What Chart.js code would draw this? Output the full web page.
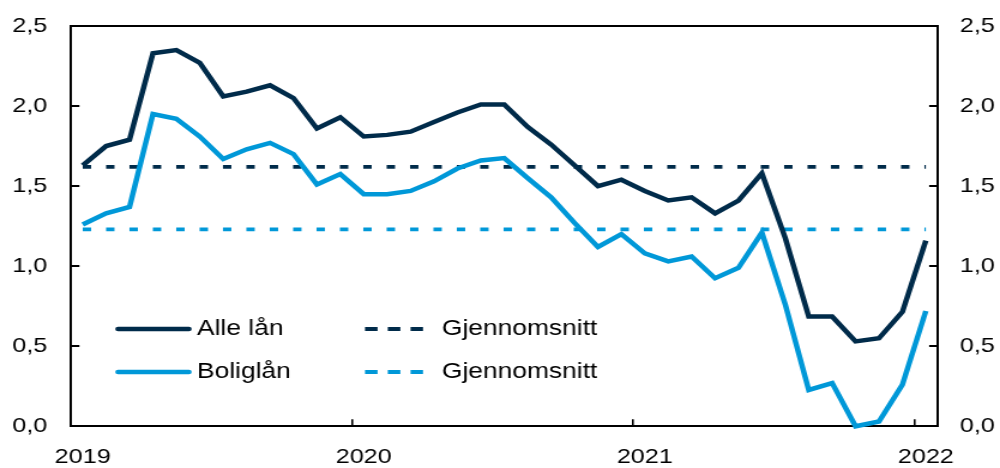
<!DOCTYPE html>
<html><head><meta charset="utf-8">
<script src="https://cdn.jsdelivr.net/npm/chart.js@4/dist/chart.umd.min.js"></script>
<style>
html,body{margin:0;padding:0;background:#fff;overflow:hidden}
#wrap{position:absolute;left:0;top:0;width:834px;height:468px;transform:scaleX(1.199041);transform-origin:0 0}
</style></head><body>
<div id="wrap"><canvas id="c"></canvas></div>
<script>
const categories = ['2019-01','2019-02','2019-03','2019-04','2019-05','2019-06','2019-07','2019-08','2019-09','2019-10','2019-11','2019-12',
  '2020-01','2020-02','2020-03','2020-04','2020-05','2020-06','2020-07','2020-08','2020-09','2020-10','2020-11','2020-12',
  '2021-01','2021-02','2021-03','2021-04','2021-05','2021-06','2021-07','2021-08','2021-09','2021-10','2021-11','2021-12',
  '2022-01'];
const alleLan = [1.63,1.75,1.79,2.33,2.35,2.27,2.06,2.09,2.13,2.05,1.86,1.93,
  1.81,1.82,1.84,1.90,1.96,2.01,2.01,1.87,1.76,1.63,1.50,1.54,
  1.47,1.41,1.43,1.33,1.41,1.58,1.175,0.685,0.685,0.53,0.55,0.715,
  1.16];
const boliglan = [1.26,1.33,1.37,1.95,1.92,1.81,1.67,1.73,1.77,1.70,1.51,1.575,
  1.45,1.45,1.47,1.53,1.61,1.66,1.675,1.55,1.43,1.27,1.12,1.20,
  1.08,1.03,1.06,0.925,0.99,1.21,0.76,0.227,0.27,0.0,0.03,0.26,
  0.72];
const avgAlleLan = 1.62;
const avgBoliglan = 1.23;
const seriesNames = ['Alle lån', 'Boliglån', 'Gjennomsnitt', 'Gjennomsnitt'];
const yMin = 0, yMax = 2.5, yStep = 0.5;

const DARK = '#002B4A';
const LIGHT = '#0098D8';
const FONT = '"Liberation Sans", Arial, sans-serif';

const isJan = i => i !== undefined && i < categories.length && categories[i].endsWith('-01');
const fmt = v => Number(v).toFixed(1).replace('.', ',');

const framePlugin = {
  id: 'frame',
  beforeDatasetsDraw(chart) {
    const {ctx, chartArea: a} = chart;
    ctx.save();
    ctx.strokeStyle = '#000';
    ctx.lineWidth = 2;
    ctx.beginPath();
    ctx.moveTo(a.left - 1, a.top);
    ctx.lineTo(a.right + 1, a.top);
    ctx.stroke();
    ctx.restore();
  }
};

const legendPlugin = {
  id: 'boxLegend',
  afterDatasetsDraw(chart) {
    const {ctx, chartArea: a} = chart;
    const ds = chart.data.datasets;
    const cols = [{x1: a.left + 39.2, x2: a.left + 98.4, tx: a.left + 105.1},
                  {x1: a.left + 245.2, x2: a.left + 293.6, tx: a.left + 309.4}];
    const rows = [a.bottom - 97.3, a.bottom - 54.3];
    const items = [{d: 0, c: 0, r: 0}, {d: 2, c: 1, r: 0}, {d: 1, c: 0, r: 1}, {d: 3, c: 1, r: 1}];
    ctx.save();
    items.forEach(it => {
      const d = ds[it.d], col = cols[it.c], y = rows[it.r];
      ctx.beginPath();
      ctx.strokeStyle = d.borderColor;
      if (d.borderDash && d.borderDash.length) {
        ctx.setLineDash([10.5, 8.5]);
        ctx.lineCap = 'butt';
        ctx.lineWidth = 4;
      } else {
        ctx.setLineDash([]);
        ctx.lineCap = 'round';
        ctx.lineWidth = 4.5;
      }
      ctx.moveTo(col.x1, y);
      ctx.lineTo(col.x2, y);
      ctx.stroke();
      ctx.setLineDash([]);
      ctx.fillStyle = '#000';
      ctx.font = '22px ' + FONT;
      ctx.textAlign = 'left';
      ctx.textBaseline = 'middle';
      ctx.fillText(d.label, col.tx, y);
    });
    ctx.restore();
  }
};

const fitY = w => s => { s.width = w; s.paddingTop = 0; s.paddingBottom = 0; };

new Chart(document.getElementById('c'), {
  type: 'line',
  data: {
    labels: categories,
    datasets: [
      {label: seriesNames[0], data: alleLan, borderColor: DARK, borderWidth: 4.5, pointRadius: 0, tension: 0, clip: false, yAxisID: 'y'},
      {label: seriesNames[1], data: boliglan, borderColor: LIGHT, borderWidth: 4.5, pointRadius: 0, tension: 0, clip: false, yAxisID: 'y'},
      {label: seriesNames[2], data: [{x: categories[0], y: avgAlleLan}, {x: categories[categories.length - 1], y: avgAlleLan}],
        borderColor: DARK, borderWidth: 3.8, borderDash: [7, 12.5], pointRadius: 0, clip: false, yAxisID: 'y'},
      {label: seriesNames[3], data: [{x: categories[0], y: avgBoliglan}, {x: categories[categories.length - 1], y: avgBoliglan}],
        borderColor: LIGHT, borderWidth: 3.8, borderDash: [7, 12.5], pointRadius: 0, clip: false, yAxisID: 'y'}
    ]
  },
  options: {
    responsive: true,
    maintainAspectRatio: false,
    animation: false,
    devicePixelRatio: 1,
    layout: {padding: {top: 26, left: 0, right: 0, bottom: 0}},
    plugins: {legend: {display: false}, tooltip: {enabled: false}},
    elements: {line: {borderJoinStyle: 'miter', borderCapStyle: 'butt'}},
    scales: {
      x: {
        type: 'category',
        offset: true,
        afterFit: s => { s.height = 41.7; s.paddingLeft = 0; s.paddingRight = 0; },
        border: {display: true, color: '#000', width: 2},
        grid: {offset: true, drawOnChartArea: false, drawTicks: true, tickLength: -7, lineWidth: 1.6,
          color: c => (c.type === 'tick' && isJan(c.index)) ? '#000' : 'rgba(0,0,0,0)'},
        ticks: {autoSkip: false, maxRotation: 0, minRotation: 0, padding: 25, color: '#000',
          font: {family: FONT, size: 21},
          callback: (v, i) => isJan(i) ? categories[i].slice(0, 4) : ''}
      },
      y: {
        position: 'left', min: yMin, max: yMax,
        afterFit: fitY(59.2),
        border: {display: true, color: '#000', width: 2},
        grid: {drawOnChartArea: false, drawTicks: true, tickLength: -7, lineWidth: 2, color: '#000'},
        ticks: {stepSize: yStep, padding: 26.8, color: '#000', font: {family: FONT, size: 21}, callback: v => fmt(v)}
      },
      y2: {
        position: 'right', min: yMin, max: yMax, display: true,
        afterFit: fitY(52.1),
        border: {display: true, color: '#000', width: 2},
        grid: {drawOnChartArea: false, drawTicks: true, tickLength: -7, lineWidth: 2, color: '#000'},
        ticks: {stepSize: yStep, padding: 25.7, color: '#000', font: {family: FONT, size: 21}, callback: v => fmt(v)}
      }
    }
  },
  plugins: [framePlugin, legendPlugin]
});
</script>
</body></html>
